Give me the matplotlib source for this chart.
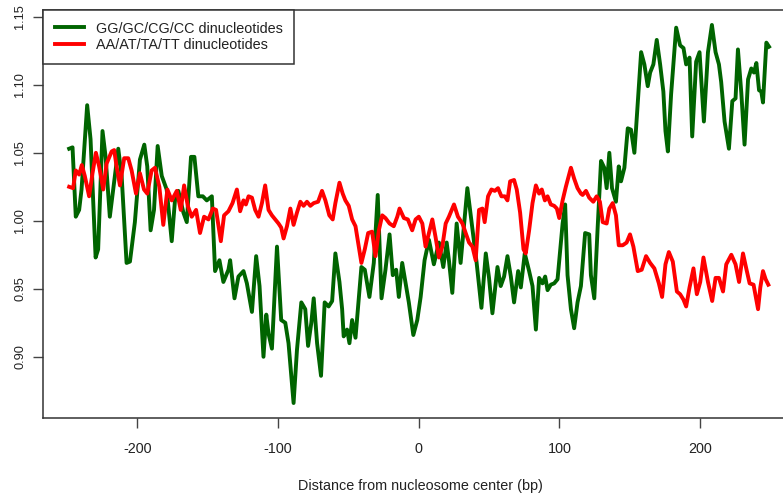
import matplotlib
matplotlib.use("Agg")
import matplotlib.pyplot as plt

# values
gc_pos = [-248.4, -246.0, -243.7, -241.3, -239.6, -235.6, -233.2, -229.6, -227.8, -224.7,
          -222.5, -219.5, -217.1, -213.5, -211.1, -207.6, -205.2, -201.7, -198.1, -195.0,
          -192.9, -190.5, -188.1, -185.5, -182.6, -179.1, -175.5, -173.2, -170.8, -167.2,
          -164.8, -161.8, -159.4, -156.6, -153.4, -150.6, -147.0, -144.7, -141.6, -138.8,
          -135.2, -134.0, -130.9, -128.1, -124.5, -122.1, -118.5, -115.5, -113.1, -110.3,
          -108.3, -106.7, -104.3, -100.7, -97.7, -94.8, -92.5, -88.9, -86.5, -83.4,
          -80.6, -78.6, -76.3, -74.6, -72.2, -69.4, -66.8, -64.0, -61.5, -59.2,
          -56.3, -54.4, -53.3, -50.9, -49.2, -47.3, -44.9, -40.7, -38.3, -35.0,
          -31.9, -29.1, -26.4, -23.6, -20.7, -18.4, -16.0, -14.1, -11.7, -9.3,
          -7.0, -3.8, -1.0, 1.4, 4.2, 7.3, 10.8, 14.4, 17.5, 19.9,
          21.5, 23.9, 27.0, 29.8, 34.6, 37.7, 41.2, 44.6, 47.7, 50.0,
          52.4, 56.0, 58.3, 60.7, 63.1, 65.5, 67.8, 70.7, 72.6, 75.4,
          78.5, 80.9, 83.3, 85.6, 88.0, 89.9, 91.6, 93.9, 96.3, 98.7,
          102.3, 104.1, 105.8, 108.2, 110.5, 112.9, 115.3, 118.3, 121.2, 122.4,
          124.8, 127.2, 129.6, 131.9, 133.6, 135.5, 137.4, 140.2, 142.2, 143.8,
          146.2, 148.6, 150.9, 153.3, 154.5, 158.1, 160.4, 162.8, 164.5, 166.8,
          169.2, 171.6, 173.9, 175.4, 177.1, 179.4, 183.0, 185.8, 188.2, 190.1,
          192.5, 194.4, 197.2, 199.6, 202.7, 205.6, 208.4, 211.0, 213.4, 215.0,
          217.4, 220.5, 222.9, 225.2, 226.9, 229.3, 231.6, 234.1, 236.4, 238.3,
          240.0, 241.9, 243.5, 244.7, 247.1, 249.0]
gc_val = [1.053, 1.054, 1.003, 1.008, 1.023, 1.085, 1.060, 0.973, 0.979, 1.066,
          1.047, 1.003, 1.023, 1.053, 1.033, 0.969, 0.970, 0.999, 1.045, 1.056,
          1.040, 0.993, 1.008, 1.055, 1.033, 1.023, 0.985, 1.015, 1.022, 1.006,
          0.999, 1.047, 1.047, 1.018, 1.018, 1.015, 1.018, 0.963, 0.971, 0.955,
          0.964, 0.971, 0.943, 0.959, 0.963, 0.954, 0.933, 0.974, 0.952, 0.900,
          0.931, 0.917, 0.906, 0.981, 0.927, 0.925, 0.910, 0.866, 0.905, 0.940,
          0.935, 0.908, 0.925, 0.943, 0.910, 0.886, 0.940, 0.937, 0.941, 0.976,
          0.955, 0.935, 0.915, 0.920, 0.910, 0.927, 0.914, 0.966, 0.964, 0.944,
          0.969, 1.019, 0.943, 0.964, 0.990, 0.960, 0.964, 0.944, 0.969, 0.954,
          0.940, 0.916, 0.927, 0.944, 0.971, 0.986, 0.968, 0.984, 0.966, 0.984,
          0.971, 0.947, 0.998, 0.969, 1.024, 0.998, 0.969, 0.936, 0.976, 0.958,
          0.932, 0.966, 0.952, 0.959, 0.974, 0.959, 0.940, 0.963, 0.951, 0.976,
          0.963, 0.952, 0.920, 0.958, 0.954, 0.959, 0.949, 0.953, 0.954, 0.957,
          0.998, 1.012, 0.960, 0.935, 0.921, 0.940, 0.952, 0.991, 0.990, 0.960,
          0.943, 0.995, 1.044, 1.039, 1.024, 1.050, 1.024, 1.014, 1.040, 1.029,
          1.039, 1.068, 1.067, 1.050, 1.068, 1.124, 1.115, 1.099, 1.109, 1.115,
          1.133, 1.115, 1.095, 1.066, 1.051, 1.093, 1.142, 1.129, 1.127, 1.115,
          1.120, 1.062, 1.117, 1.124, 1.073, 1.124, 1.144, 1.124, 1.115, 1.102,
          1.073, 1.053, 1.088, 1.090, 1.126, 1.094, 1.056, 1.104, 1.112, 1.109,
          1.116, 1.096, 1.095, 1.087, 1.131, 1.128]

at_pos = [-248.4, -245.6, -243.7, -241.3, -239.4, -237.3, -234.2, -231.8, -229.4, -227.1,
          -224.2, -221.8, -218.2, -216.4, -214.7, -212.3, -209.3, -206.4, -204.0, -200.9,
          -198.1, -195.2, -192.9, -189.8, -187.4, -184.3, -181.5, -178.6, -175.5, -171.9,
          -169.1, -166.7, -164.1, -161.3, -158.2, -155.4, -152.5, -149.4, -146.3, -144.0,
          -140.6, -138.3, -135.2, -132.3, -129.2, -126.9, -124.5, -122.8, -120.9, -118.5,
          -116.2, -113.8, -111.4, -109.1, -106.7, -104.3, -101.9, -99.6, -97.7, -96.0,
          -93.6, -91.2, -88.9, -86.5, -84.1, -81.8, -79.4, -77.0, -74.6, -71.5,
          -68.7, -66.3, -63.5, -61.1, -59.2, -56.3, -54.0, -52.1, -49.7, -47.3,
          -44.9, -42.6, -40.7, -38.3, -35.9, -33.1, -30.7, -28.3, -25.9, -23.6,
          -20.7, -17.7, -15.2, -13.6, -10.5, -7.7, -4.6, -2.2, 0.1, 2.6,
          4.9, 7.3, 9.7, 12.0, 14.4, 16.8, 19.2, 21.5, 25.1, 27.9,
          31.1, 33.4, 35.8, 38.2, 40.5, 42.9, 45.3, 46.9, 49.3, 51.7,
          54.1, 56.4, 58.8, 61.2, 63.1, 65.0, 67.8, 69.7, 72.1, 74.5,
          76.1, 78.5, 80.9, 83.3, 85.6, 87.5, 89.7, 91.6, 93.9, 96.3,
          98.2, 99.9, 102.3, 104.6, 108.2, 110.5, 112.9, 115.3, 116.5, 118.9,
          121.2, 124.1, 126.5, 128.8, 130.8, 133.6, 135.5, 137.9, 140.2, 142.2,
          145.0, 147.8, 150.2, 152.6, 155.7, 158.5, 161.6, 164.5, 167.5, 170.7,
          173.0, 175.4, 177.8, 180.6, 183.5, 185.8, 188.2, 190.1, 192.5, 195.3,
          197.7, 200.1, 202.4, 205.6, 208.6, 211.0, 213.4, 216.3, 218.6, 222.2,
          225.2, 227.7, 230.5, 232.8, 235.2, 238.0, 241.2, 242.8, 244.7, 246.6,
          248.5]
at_val = [1.025, 1.024, 1.037, 1.034, 1.041, 1.033, 1.018, 1.035, 1.050, 1.040,
          1.023, 1.042, 1.051, 1.052, 1.040, 1.026, 1.046, 1.046, 1.037, 1.020,
          1.035, 1.023, 1.020, 1.037, 1.039, 1.025, 0.997, 1.023, 1.015, 1.022,
          1.008, 1.026, 1.011, 1.003, 1.008, 0.991, 1.003, 1.001, 1.009, 1.008,
          0.985, 1.004, 1.007, 1.013, 1.023, 1.007, 1.015, 1.012, 1.018, 1.017,
          1.008, 1.003, 1.013, 1.026, 1.008, 1.004, 1.001, 0.998, 0.995, 0.987,
          0.996, 1.009, 0.997, 1.006, 1.014, 1.011, 1.014, 1.011, 1.013, 1.014,
          1.022, 1.015, 1.004, 1.001, 1.013, 1.028, 1.020, 1.015, 1.011, 1.001,
          0.996, 0.981, 0.969, 0.979, 0.991, 0.992, 0.974, 0.993, 1.004, 1.002,
          0.998, 0.996, 1.003, 1.009, 1.002, 1.001, 0.993, 1.001, 1.003, 0.998,
          0.981, 0.991, 1.001, 0.988, 0.973, 0.981, 0.998, 1.003, 1.012, 1.003,
          0.998, 0.991, 0.984, 0.981, 0.971, 1.008, 1.009, 0.999, 1.018, 1.023,
          1.022, 1.024, 1.018, 1.018, 1.015, 1.029, 1.030, 1.023, 1.006, 0.979,
          0.976, 0.993, 1.013, 1.026, 1.020, 1.023, 1.015, 1.018, 1.012, 1.011,
          1.009, 1.002, 1.015, 1.025, 1.039, 1.031, 1.024, 1.020, 1.019, 1.022,
          1.017, 1.014, 1.018, 1.014, 0.999, 0.998, 1.009, 1.013, 1.004, 0.982,
          0.982, 0.984, 0.990, 0.981, 0.963, 0.964, 0.974, 0.969, 0.965, 0.954,
          0.944, 0.968, 0.977, 0.970, 0.948, 0.946, 0.942, 0.937, 0.951, 0.965,
          0.946, 0.955, 0.973, 0.955, 0.941, 0.958, 0.958, 0.948, 0.968, 0.975,
          0.968, 0.955, 0.976, 0.965, 0.954, 0.953, 0.935, 0.951, 0.963, 0.957,
          0.953]

x_ticks = [-200, -100, 0, 100, 200]
y_ticks = [0.90, 0.95, 1.00, 1.05, 1.10, 1.15]
y_labels = ['0.90', '0.95', '1.00', '1.05', '1.10', '1.15']

plt.rcParams['font.family'] = ['Liberation Sans', 'DejaVu Sans']

fig = plt.figure(figsize=(7.83, 4.95), dpi=100)
# the right edge of the plot box lies outside the picture, as in the reference
ax = fig.add_axes([0.0549, 0.1556, 0.965, 0.8242])

ax.plot(gc_pos, gc_val, color='#006400', lw=2.8, solid_joinstyle='round',
        label='GG/GC/CG/CC dinucleotides')
ax.plot(at_pos, at_val, color='#ff0000', lw=2.8, solid_joinstyle='round',
        label='AA/AT/TA/TT dinucleotides')

ax.set_xlim(-267, 270)
ax.set_ylim(0.855, 1.155)

ax.set_xticks(x_ticks)
ax.set_xticklabels([str(t) for t in x_ticks], fontsize=10.4, color='#222222')
ax.set_yticks(y_ticks)
ax.set_yticklabels(y_labels, fontsize=9.2, rotation=90, va='center', color='#222222')
ax.tick_params(axis='both', direction='out', length=7, width=1, color='#444444')
ax.tick_params(axis='x', pad=10)
ax.tick_params(axis='y', pad=5)

for s in ax.spines.values():
    s.set_color('#333333')
    s.set_linewidth(1.1)

ax.set_xlabel('Distance from nucleosome center (bp)', fontsize=10.4, color='#222222', labelpad=17)

leg = ax.legend(loc='upper left', bbox_to_anchor=(0, 1), borderaxespad=0,
                fontsize=10.4, handlelength=2.05, handletextpad=0.8,
                borderpad=0.8, labelspacing=0.2, fancybox=False,
                edgecolor='#333333', framealpha=1)
leg.get_frame().set_linewidth(1.1)
for t in leg.get_texts():
    t.set_color('#222222')

fig.savefig('out.png', dpi=100)
